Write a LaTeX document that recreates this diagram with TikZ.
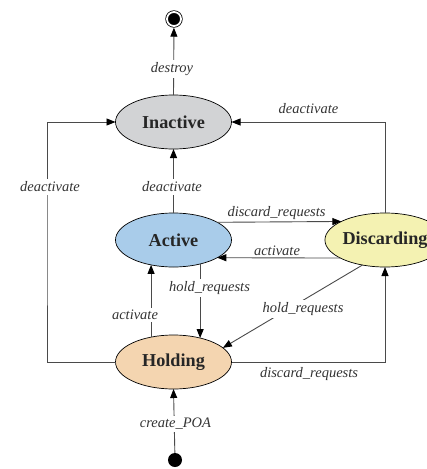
\documentclass[tikz,border=0pt]{standalone}
\usepackage{fontspec}
\setmainfont{Liberation Serif}
\usetikzlibrary{shapes.geometric,arrows.meta}
\definecolor{inactivefill}{HTML}{D2D3D5}
\definecolor{activefill}{HTML}{A9CCEA}
\definecolor{holdfill}{HTML}{F4D5B0}
\definecolor{discfill}{HTML}{F4F2B2}
\definecolor{edgecol}{HTML}{4A4A4A}
\begin{document}
\begin{tikzpicture}[x=1pt,y=-1pt,
  state/.style={ellipse,draw=black,line width=0.7pt,minimum width=116pt,minimum height=54pt,
    inner sep=0pt,outer sep=0pt,font=\fontsize{18.2}{21}\selectfont\bfseries,text=black!85},
  lbl/.style={font=\fontsize{14.5}{17}\selectfont\itshape,text=black!80,inner sep=1pt},
  lblw/.style={lbl,fill=white,inner sep=2.5pt},
  arr/.style={draw=edgecol,line width=0.9pt,-{Triangle[length=9pt,width=7pt,color=black]}},
  ln/.style={draw=edgecol,line width=0.9pt}
]
\useasboundingbox (0,0) rectangle (427,469);

\node[state,fill=inactivefill] (I) at (173.5,122) {Inactive};
\node[state,fill=activefill]   (A) at (173.5,240) {Active};
\node[state,fill=holdfill]     (H) at (173.5,362) {Holding};
\node[state,fill=discfill]     (D) at (385,240)   {Discarding};

\node[circle,fill=black,draw=black,line width=0.8pt,double=white,double distance=1.8pt,
      minimum size=14pt,inner sep=0pt,outer sep=1.7pt] (F) at (174,19) {};
\node[circle,fill=black,minimum size=14pt,inner sep=0pt] (S) at (175,460) {};

\coordinate (LX) at (47,250);

% edges
\draw[arr] (I.north) -- (F);
\draw[arr] (A.north) -- (I.south);
\draw[arr] (D.north) |- (I.east);
\draw[arr] (H.west) -| (LX) |- (I.west);
\draw[arr] (A.22.6) -- (D.157.4);
\draw[arr] (D.202.6) -- (A.-22.6);
\draw[arr] (A.-42.2) -- (H.42.2);
\draw[arr] (H.132.1) -- (A.-132.1);
\draw[arr] (D.228.5) -- (H.16.9);
\draw[arr] (H.east) -| (D.south);
\draw[arr] (S) -- (H.south);

% labels
\node[lblw] (l1) at (172,69) {destroy};
\node[lbl]  (l2) at (308.5,109) {deactivate};
\node[lblw] (l3) at (50,187) {deactivate};
\node[lblw] (l4) at (172,187) {deactivate};
\node[lbl]  (l5) at (276.5,213) {discard\_requests};
\node[lbl]  (l6) at (277,251) {activate};
\node[lblw] (l7) at (209.5,288) {hold\_requests};
\node[lblw] (l8) at (135,315) {activate};
\node[lblw] (l9) at (303,309) {hold\_requests};
\node[lbl]  (l10) at (309,374) {discard\_requests};
\node[lblw] (l11) at (175.5,424) {create\_POA};
\end{tikzpicture}
\end{document}
